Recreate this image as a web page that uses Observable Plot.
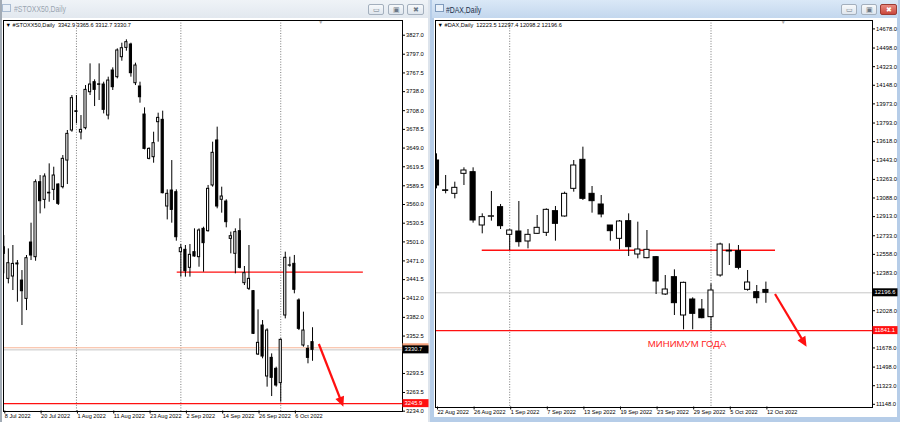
<!DOCTYPE html>
<html><head><meta charset="utf-8">
<script src="https://cdn.jsdelivr.net/npm/d3@7"></script>
<script src="https://cdn.jsdelivr.net/npm/@observablehq/plot@0.6"></script>
<style>
html,body{margin:0;padding:0}
body{width:900px;height:422px;overflow:hidden;position:relative;background:#c9d6e5;font-family:"Liberation Sans",Arial,sans-serif}
.abs{position:absolute}
.title{position:absolute;font-size:8.6px;white-space:nowrap;transform:scaleX(0.8);transform-origin:left center}
.btn{position:absolute;top:4px;width:16px;height:11px;border:1px solid #a3afbd;border-radius:2px;box-sizing:border-box;background:linear-gradient(#f7f9fb,#dfe6ee);font-size:7px;line-height:9px;text-align:center;color:#6c7885}
.ico{position:absolute;width:9px;height:8px;border:1px solid #7f9bbd;box-sizing:border-box;background:#e9f1fa}
.chart{position:absolute}
</style></head><body>
<div class="abs" style="left:0;top:0;width:430px;height:422px;background:#dde4ec"></div>
<div class="abs" style="left:0;top:0;width:2px;height:422px;background:#a2abb5"></div>
<div class="abs" style="left:2px;top:0;width:426px;height:18px;background:linear-gradient(#eff3f7,#e2e8ef)"></div>
<div class="ico" style="left:2px;top:4px;opacity:.6"></div>
<div class="title" style="left:14px;top:4px;color:#9aa5b1">#STOXX50,Daily</div>
<div class="btn" style="left:368px">&#9645;</div>
<div class="btn" style="left:388px">&#9635;</div>
<div class="btn" style="left:407px;width:17px">&#10006;</div>
<div class="abs" style="left:2px;top:18px;width:426px;height:404px;background:#fff"></div>

<div class="abs" style="left:430px;top:0;width:470px;height:422px;background:#b6cde8"></div>
<div class="abs" style="left:432px;top:0;width:466px;height:18px;background:linear-gradient(#dae8f7,#c3d7ee)"></div>
<div class="ico" style="left:435px;top:4px"></div>
<div class="title" style="left:446px;top:5px;color:#1d2f4a">#DAX,Daily</div>
<div class="btn" style="left:841px">&#9645;</div>
<div class="btn" style="left:861px">&#9635;</div>
<div class="btn" style="left:880px;width:17px;background:linear-gradient(#e98a80,#c9473c);border-color:#9b3b33;color:#fff">&#10006;</div>
<div class="abs" style="left:434px;top:18px;width:463px;height:399px;background:#fff"></div>

<div id="left" class="chart" style="left:0;top:19px;width:430px;height:403px"></div>
<div id="right" class="chart" style="left:430px;top:19px;width:470px;height:403px"></div>

<script>
// ---------- STOXX50 daily (8 Jul 2022 .. 12 Oct 2022), bar index 0..68 ----------
const stoxxOpen = [3482.1,3442.7,3446.4,3467.0,3440.0,3411.1,3500.0,3476.9,3595.2,3567.3,3578.5,3583.1,3591.5,3587.3,3629.3,3676.7,3707.0,3673.5,3680.3,3737.1,3752.9,3749.5,3749.2,3700.3,3771.3,3760.8,3792.3,3807.0,3812.3,3751.3,3746.1,3701.9,3632.0,3634.6,3689.8,3693.5,3556.8,3582.0,3579.4,3484.8,3488.5,3460.1,3484.8,3476.9,3521.6,3517.9,3590.0,3661.0,3567.4,3564.7,3505.8,3482.2,3517.9,3435.9,3427.0,3423.3,3323.4,3369.1,3288.7,3318.1,3300.8,3278.2,3384.9,3463.5,3466.4,3408.6,3337.6,3332.3,3342.9];
const stoxxHigh = [3511.0,3490.0,3495.3,3471.6,3455.8,3479.5,3530.5,3598.8,3605.7,3608.3,3624.1,3618.8,3592.5,3637.2,3676.7,3731.9,3731.9,3700.3,3747.6,3781.8,3756.6,3781.8,3752.9,3760.8,3775.5,3805.5,3814.4,3819.7,3814.4,3782.9,3752.9,3712.4,3649.3,3674.0,3704.0,3707.2,3583.1,3629.3,3583.1,3496.9,3495.3,3496.9,3521.6,3521.6,3524.2,3590.0,3658.3,3682.0,3587.3,3567.4,3516.4,3521.6,3537.4,3462.2,3495.3,3424.3,3393.8,3377.0,3363.9,3324.4,3303.4,3348.1,3484.8,3476.9,3479.6,3411.2,3390.2,3337.6,3365.6];
const stoxxLow = [3450.6,3434.8,3424.3,3405.9,3369.1,3392.7,3471.6,3470.5,3545.2,3553.1,3563.6,3566.2,3558.4,3584.6,3591.5,3674.0,3687.2,3661.9,3677.7,3731.9,3714.5,3724.0,3702.9,3693.5,3739.8,3758.2,3786.0,3801.8,3760.8,3747.6,3719.8,3646.2,3630.4,3625.1,3658.3,3576.8,3535.7,3530.5,3502.1,3445.4,3445.4,3445.4,3476.9,3461.1,3453.3,3516.4,3587.3,3553.2,3546.3,3523.2,3482.2,3450.6,3458.5,3432.2,3424.3,3354.9,3321.8,3316.6,3271.9,3257.1,3271.9,3248.2,3379.6,3461.1,3419.1,3361.2,3335.0,3308.7,3312.7];
const stoxxClose = [3492.6,3467.4,3466.3,3465.5,3423.2,3475.3,3479.5,3595.2,3565.2,3604.1,3577.5,3605.7,3561.0,3632.0,3671.4,3727.7,3706.0,3677.7,3740.8,3749.2,3740.8,3748.8,3709.3,3755.5,3745.0,3802.9,3806.5,3816.0,3767.1,3779.2,3729.2,3647.7,3647.7,3656.7,3696.6,3577.8,3576.8,3551.5,3508.4,3491.1,3454.8,3480.6,3478.0,3519.0,3499.0,3584.7,3641.5,3556.8,3572.6,3532.1,3510.0,3516.4,3460.1,3451.7,3442.7,3356.0,3341.8,3320.2,3361.2,3286.6,3274.5,3346.5,3475.9,3464.0,3425.4,3363.9,3361.2,3318.1,3330.7];
const stoxxYTicks = [3827.0,3797.0,3767.5,3738.0,3708.0,3678.5,3649.0,3619.5,3589.5,3560.0,3530.5,3501.0,3471.0,3441.5,3412.0,3382.0,3352.5,3293.5,3263.5,3234.0];
const stoxxXTickIdx = [0,8,16,24,32,40,48,56,64];
const stoxxXTickLabels = ["8 Jul 2022","20 Jul 2022","1 Aug 2022","11 Aug 2022","23 Aug 2022","2 Sep 2022","14 Sep 2022","26 Sep 2022","6 Oct 2022"];
const stoxxMonthSeps = [16,39,61];
const stoxxResistance = [38.2, 79.2, 3453.3];   // from idx, to idx, price
const stoxxYearLow = 3245.9;
const stoxxBid = 3330.7;
const stoxxAsk = 3334.0;
const stoxxArrow = [69.5, 3339.2, 74.9, 3240.3]; // idx, price -> idx, price
const stoxxShift = 69.8;

// ---------- DAX daily (22 Aug 2022 .. 12 Oct 2022), bar index 0..36 ----------
const daxOpen = [13440.6,13160.0,13127.2,13315.2,13330.9,12829.4,12912.0,13001.8,12741.7,12773.0,12679.0,12751.1,12760.5,12964.2,12914.1,13174.2,13446.9,13127.2,13026.9,12829.4,12704.1,12870.2,12556.7,12522.2,12531.6,12180.6,12343.6,11983.1,12133.6,12039.5,11967.5,12359.2,12592.0,12588.0,12224.5,12202.5,12223.5];
const daxHigh = [13503.3,13299.6,13236.9,13371.7,13371.7,12939.1,13149.1,13026.9,12788.7,13055.1,12791.8,12923.5,12986.1,13008.1,13142.9,13440.6,13566.0,13196.1,13111.5,12829.4,12876.4,12939.1,12860.8,12782.4,12538.0,12359.2,12412.5,12296.6,12149.2,12133.6,12280.9,12663.3,12657.0,12641.3,12406.3,12265.2,12297.4];
const daxLow = [13174.2,13127.2,13080.2,13205.5,12851.4,12751.1,12870.2,12791.8,12594.4,12625.7,12610.0,12744.8,12726.0,12682.1,12907.8,13142.9,13064.5,12945.4,12901.5,12682.1,12600.6,12537.9,12516.0,12516.0,12180.6,12171.2,11983.1,11848.4,11848.4,11951.8,11842.1,12343.6,12453.3,12412.5,12211.9,12092.8,12098.2];
const daxClose = [13205.5,13155.0,13183.6,13346.6,12876.4,12907.8,12916.0,12823.2,12782.4,12672.7,12741.7,12807.5,12976.7,12845.1,13127.2,13393.6,13080.2,13058.2,12932.9,12776.1,12867.0,12625.7,12603.7,12600.6,12302.8,12227.6,12099.1,12290.3,11998.8,11958.1,12218.2,12650.7,12585.0,12431.3,12293.4,12146.1,12196.6];
const daxYTicks = [14678.0,14498.0,14323.0,14148.0,13973.0,13793.0,13618.0,13443.0,13263.0,13088.0,12913.0,12733.0,12558.0,12383.0,12028.0,11678.0,11498.0,11323.0,11148.0];
const daxXTickIdx = [0,4,8,12,16,20,24,28,32,36];
const daxXTickLabels = ["22 Aug 2022","26 Aug 2022","1 Sep 2022","7 Sep 2022","13 Sep 2022","19 Sep 2022","23 Sep 2022","29 Sep 2022","5 Oct 2022","12 Oct 2022"];
const daxMonthSeps = [8,30];
const daxResistance = [5.0, 37.05, 12596.0];
const daxYearLow = 11841.1;
const daxBid = 12196.6;
const daxArrow = [37.05, 12180.6, 40.5, 11685.1];
const daxNote = ["МИНИМУМ ГОДА", 23.1, 11712.0];
const daxShift = 37.9;

const FONT = "Liberation Sans, Arial, sans-serif";

function drawChart(cfg) {
  const data = cfg.open.map((o, i) => ({i, o, h: cfg.high[i], l: cfg.low[i], c: cfg.close[i]}));
  const last = data[data.length - 1];
  const info = `▼ ${cfg.name}  ${last.o.toFixed(1)} ${last.h.toFixed(1)} ${last.l.toFixed(1)} ${last.c.toFixed(1)}`;
  const labelMap = new Map(cfg.xTickIdx.map((d, k) => [d, cfg.xTickLabels[k]]));
  const hw = cfg.bodyHalf;
  const marks = [
    Plot.ruleX(cfg.seps, {x: d => d, stroke: "#7a7a7a", strokeDasharray: "1,1.6"}),
    Plot.ruleY([cfg.bid], {y: d => d, stroke: "#c6c6c6"}),
  ];
  if (cfg.ask != null) marks.push(Plot.ruleY([cfg.ask], {y: d => d, stroke: "#f7b596"}));
  marks.push(
    Plot.ruleY([cfg.yearLow], {y: d => d, stroke: "#ff1010", strokeWidth: 1.4}),
    Plot.ruleY([{x1: cfg.res[0], x2: cfg.res[1], y: cfg.res[2]}], {x1: "x1", x2: "x2", y: "y", stroke: "#ff1010", strokeWidth: 1.4}),
    Plot.ruleX(data, {x: "i", y1: "l", y2: "h", stroke: "#000", strokeWidth: 1, clip: true}),
    Plot.rect(data, {x1: d => d.i - hw, x2: d => d.i + hw, y1: "o", y2: "c",
      fill: d => d.c >= d.o ? "#ffffff" : "#000000", stroke: "#000", strokeWidth: 1, clip: true}),
    Plot.text([info], {frameAnchor: "top-left", dx: 2, dy: 3, text: d => d, fontSize: 5.6, textAnchor: "start", lineAnchor: "top", fill: "#000"}),
    Plot.text([cfg.shift], {x: d => d, frameAnchor: "top", text: () => "▼", fontSize: 5, lineAnchor: "top", dy: 0, fill: "#a8a8a8"}),
    Plot.axisY(cfg.yTicks, {anchor: "right", tickSize: 2, tickPadding: 1.5, tickFormat: d => d.toFixed(1), fontSize: 5.8}),
    Plot.axisX(cfg.xTickIdx, {anchor: "bottom", tickSize: 3, tickPadding: 0, textAnchor: "start", dx: 1, dy: -0.5, tickFormat: d => labelMap.get(d), fontSize: 5.6}),
    Plot.frame({stroke: "#000"})
  );
  if (cfg.note) marks.push(Plot.text([cfg.note], {x: d => d[1], y: d => d[2], text: d => d[0], fill: "#ff2424", fontSize: 9.6, textAnchor: "start"}));

  const plot = Plot.plot({
    width: cfg.width, height: cfg.height,
    marginLeft: cfg.ml, marginRight: cfg.mr, marginTop: cfg.mt, marginBottom: cfg.mb,
    x: {type: "linear", domain: cfg.xDomain, label: null},
    y: {type: "linear", domain: cfg.yDomain, label: null},
    style: {background: "transparent", fontFamily: FONT, color: "#000", overflow: "visible"},
    marks
  });

  // price tags and arrow, placed through the plot's own scales
  const xs = plot.scale("x"), ys = plot.scale("y");
  const svg = d3.select(plot);
  const g = svg.append("g").attr("font-family", FONT).attr("text-anchor", "start");
  const fx = cfg.width - cfg.mr;
  for (const [v, bg, showText] of cfg.tags) {
    const y = ys.apply(v);
    g.append("rect").attr("x", fx + 0.5).attr("y", y - 4).attr("width", cfg.tagW).attr("height", 8).attr("fill", bg);
    if (showText) g.append("text").attr("x", fx + 2.5).attr("y", y).attr("dy", "0.36em").attr("fill", "#fff")
      .attr("text-anchor", "start").attr("font-size", 5.8).text(v.toFixed(1));
  }
  const [a, b, c, d] = cfg.arrow;
  const x1 = xs.apply(a), y1 = ys.apply(b), x2 = xs.apply(c), y2 = ys.apply(d);
  const L = Math.hypot(x2 - x1, y2 - y1), ux = (x2 - x1) / L, uy = (y2 - y1) / L;
  const hl = 10, hwid = 4.6;
  const bx = x2 - ux * hl, by = y2 - uy * hl;
  g.append("line").attr("x1", x1).attr("y1", y1).attr("x2", bx + ux * 2).attr("y2", by + uy * 2)
    .attr("stroke", "#ff1010").attr("stroke-width", 2.2);
  g.append("polygon").attr("points", `${x2},${y2} ${bx - uy * hwid},${by + ux * hwid} ${bx + uy * hwid},${by - ux * hwid}`)
    .attr("fill", "#ff1010");
  return plot;
}

document.getElementById("left").append(drawChart({
  name: "#STOXX50,Daily", open: stoxxOpen, high: stoxxHigh, low: stoxxLow, close: stoxxClose,
  yTicks: stoxxYTicks, xTickIdx: stoxxXTickIdx, xTickLabels: stoxxXTickLabels, seps: stoxxMonthSeps,
  res: stoxxResistance, yearLow: stoxxYearLow, bid: stoxxBid, ask: stoxxAsk, arrow: stoxxArrow, shift: stoxxShift,
  tags: [[stoxxAsk, "#f4a07a", false], [stoxxBid, "#000", true], [stoxxYearLow, "#ff1010", true]], tagW: 26,
  width: 430, height: 403, ml: 3, mr: 28, mt: 1, mb: 11,
  xDomain: [-0.066, 87.82], yDomain: [3233.5, 3850.2], bodyHalf: 0.24
}));

document.getElementById("right").append(drawChart({
  name: "#DAX,Daily", open: daxOpen, high: daxHigh, low: daxLow, close: daxClose,
  yTicks: daxYTicks, xTickIdx: daxXTickIdx, xTickLabels: daxXTickLabels, seps: daxMonthSeps,
  res: daxResistance, yearLow: daxYearLow, bid: daxBid, ask: null, arrow: daxArrow, shift: daxShift,
  note: daxNote,
  tags: [[daxBid, "#000", true], [daxYearLow, "#ff1010", true]], tagW: 25,
  width: 470, height: 403, ml: 5, mr: 28, mt: 1, mb: 15,
  xDomain: [-0.109, 47.65], yDomain: [11118.1, 14757.0], bodyHalf: 0.28
}));
</script>
</body></html>
